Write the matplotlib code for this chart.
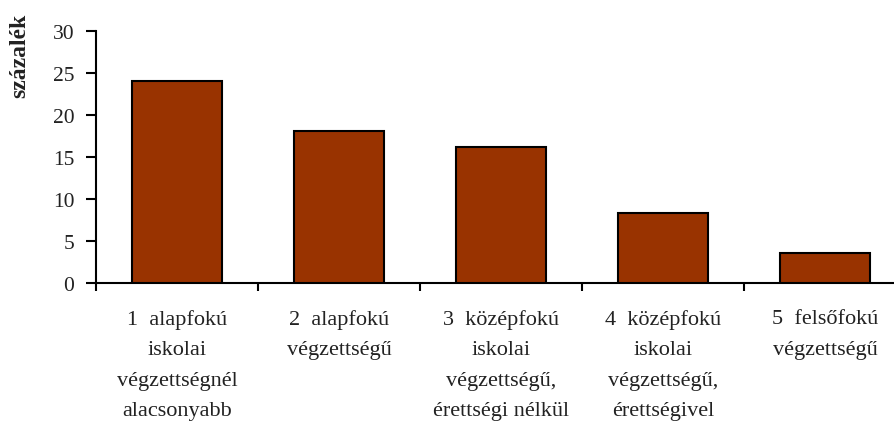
import numpy as np
import matplotlib
matplotlib.use('Agg')
import matplotlib.pyplot as plt

categories = ['1  alapfokú\niskolai\nvégzettségnél\nalacsonyabb',
              '2  alapfokú\nvégzettségű',
              '3  középfokú\niskolai\nvégzettségű,\nérettségi nélkül',
              '4  középfokú\niskolai\nvégzettségű,\nérettségivel',
              '5  felsőfokú\nvégzettségű']
values = [24.1, 18.1, 16.2, 8.3, 3.6]
yticks = [0, 5, 10, 15, 20, 25, 30]

plt.rcParams['font.family'] = ['Liberation Serif', 'DejaVu Serif']
txt = '#222222'

fig = plt.figure(figsize=(8.94, 4.27), dpi=100)
ax = fig.add_axes([0.1074, 0.3349, 0.906, 0.590])

x = np.arange(len(values))
ax.bar(x, values, width=0.556, color='#993300', edgecolor='black', linewidth=1.5, zorder=3)

ax.set_xlim(-0.5, 4.5)
ax.set_ylim(0, 30)
ax.set_yticks(yticks)
ax.set_yticklabels([str(v) for v in yticks], fontsize=15.5, color=txt)

# tick marks between categories, labels centred under bars
ax.set_xticks(np.arange(-0.5, 5, 1))
ax.set_xticklabels([])
ax.set_xticks(x, minor=True)
ax.set_xticklabels(categories, minor=True, fontsize=16, color=txt, linespacing=1.8)
ax.tick_params(axis='x', which='minor', length=0, pad=19)
ax.tick_params(axis='x', which='major', length=6, width=1.5, direction='out')
ax.tick_params(axis='y', length=7, width=1.5, direction='out', pad=8.5)

for s in ['top', 'right']:
    ax.spines[s].set_visible(False)
for s in ['left', 'bottom']:
    ax.spines[s].set_linewidth(1.5)

fig.text(0.022, 0.869, 'százalék', rotation=90, ha='center', va='center',
         fontsize=17, fontweight='bold', color=txt)

fig.savefig('out.png', dpi=100)
